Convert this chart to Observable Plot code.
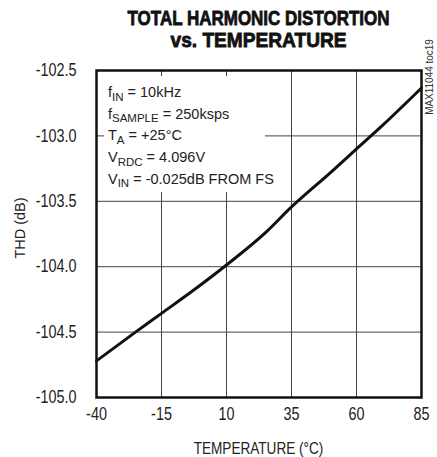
<!DOCTYPE html>
<html>
<head>
<meta charset="utf-8">
<script src="https://cdn.jsdelivr.net/npm/d3@7"></script>
<script src="https://cdn.jsdelivr.net/npm/@observablehq/plot@0.6"></script>
<style>
  html, body { margin: 0; padding: 0; background: #fff; }
  svg { display: block; }
</style>
</head>
<body>
<div id="chart"></div>
<script>
const temps = [-40, -25, -15, 0, 10, 25, 35, 50, 60, 70, 85];
const thd = [-104.72, -104.50, -104.357, -104.14, -103.987, -103.74, -103.543, -103.28, -103.10, -102.92, -102.634];
const xTicks = [-40, -15, 10, 35, 60, 85];
const yTicks = [-105, -104.5, -104, -103.5, -103, -102.5];
const titleLines = ["TOTAL HARMONIC DISTORTION", "vs. TEMPERATURE"];
const xLabel = "TEMPERATURE (°C)";
const yLabel = "THD (dB)";
const sideNote = "MAX11044 toc19";
const noteMain = ["f", "f", "T", "V", "V"];
const noteSub = ["IN", "SAMPLE", "A", "RDC", "IN"];
const noteRest = [" = 10kHz", " = 250ksps", " = +25°C", " = 4.096V", " = -0.025dB FROM FS"];

const data = temps.map((t, i) => ({t, v: thd[i]}));
const FONT = "'Liberation Sans', Arial, sans-serif";

const plot = Plot.plot({
  width: 437,
  height: 457,
  marginTop: 70,
  marginBottom: 60,
  marginLeft: 96,
  marginRight: 16,
  style: {fontFamily: FONT, fontSize: "18px", color: "#222", background: "#fff"},
  x: {domain: [-40, 85]},
  y: {domain: [-105, -102.5]},
  marks: [
    Plot.gridX(xTicks, {stroke: "#444", strokeOpacity: 1, strokeWidth: 1}),
    Plot.gridY(yTicks, {stroke: "#444", strokeOpacity: 1, strokeWidth: 1}),
    Plot.axisX({ticks: xTicks, tickSize: 0, tickPadding: 10, tickFormat: d => String(d), label: null, fill: "#222"}),
    Plot.axisY({ticks: yTicks, tickSize: 0, tickPadding: 20, tickFormat: d => d.toFixed(1), label: null, fill: "#222"}),
    Plot.line(data, {x: "t", y: "v", stroke: "#111", strokeWidth: 3, curve: "monotone-x"}),
    Plot.frame({stroke: "#111", strokeWidth: 2.5})
  ]
});

const svg = d3.select(plot);
const xs = plot.scale("x"), ys = plot.scale("y");
const L = xs.apply(-40), R = xs.apply(85), T = ys.apply(-102.5), B = ys.apply(-105);
const cx = (L + R) / 2;

// condense tick labels (narrow typeface look)
svg.selectAll("[aria-label='x-axis tick label'] text, [aria-label='y-axis tick label'] text")
  .attr("transform", function () { return (this.getAttribute("transform") || "") + " scale(0.8,1)"; });

// titles
const titleWidths = [262, 176];
titleLines.forEach((s, i) => {
  svg.append("text").text(s)
    .attr("x", cx).attr("y", 25 + i * 22)
    .attr("text-anchor", "middle")
    .attr("textLength", titleWidths[i]).attr("lengthAdjust", "spacingAndGlyphs")
    .attr("font-family", FONT).attr("font-weight", "bold").attr("font-size", 21)
    .attr("fill", "#111").attr("stroke", "#111").attr("stroke-width", 0.8);
});

// axis titles
svg.append("text").text(xLabel)
  .attr("transform", `translate(${cx},454) scale(0.85,1)`).attr("text-anchor", "middle")
  .attr("font-family", FONT).attr("font-size", 16).attr("fill", "#222");
svg.append("text").text(yLabel)
  .attr("transform", `translate(25,228) rotate(-90)`)
  .attr("text-anchor", "middle")
  .attr("font-family", FONT).attr("font-size", 14.5).attr("fill", "#222");

// side note
svg.append("text").text(sideNote)
  .attr("transform", `translate(433,77) rotate(-90) scale(0.95,1)`)
  .attr("text-anchor", "middle")
  .attr("font-family", FONT).attr("font-size", 10.5).attr("fill", "#333");

// annotation box
const frameNode = svg.select("[aria-label=frame]").node();
svg.insert("rect", () => frameNode)
  .attr("x", L + 8).attr("y", T + 6).attr("width", 161).attr("height", 116)
  .attr("fill", "#fff");
noteMain.forEach((m, i) => {
  const t = svg.append("text")
    .attr("x", L + 12).attr("y", T + 27 + i * 21.7)
    .attr("text-anchor", "start")
    .attr("font-family", FONT).attr("font-size", 14.5).attr("fill", "#222");
  t.append("tspan").text(m);
  t.append("tspan").text(noteSub[i]).attr("font-size", 11.5).attr("dy", 3.5);
  t.append("tspan").text(noteRest[i]).attr("dy", -3.5);
});

document.getElementById("chart").appendChild(plot);
</script>
</body>
</html>
